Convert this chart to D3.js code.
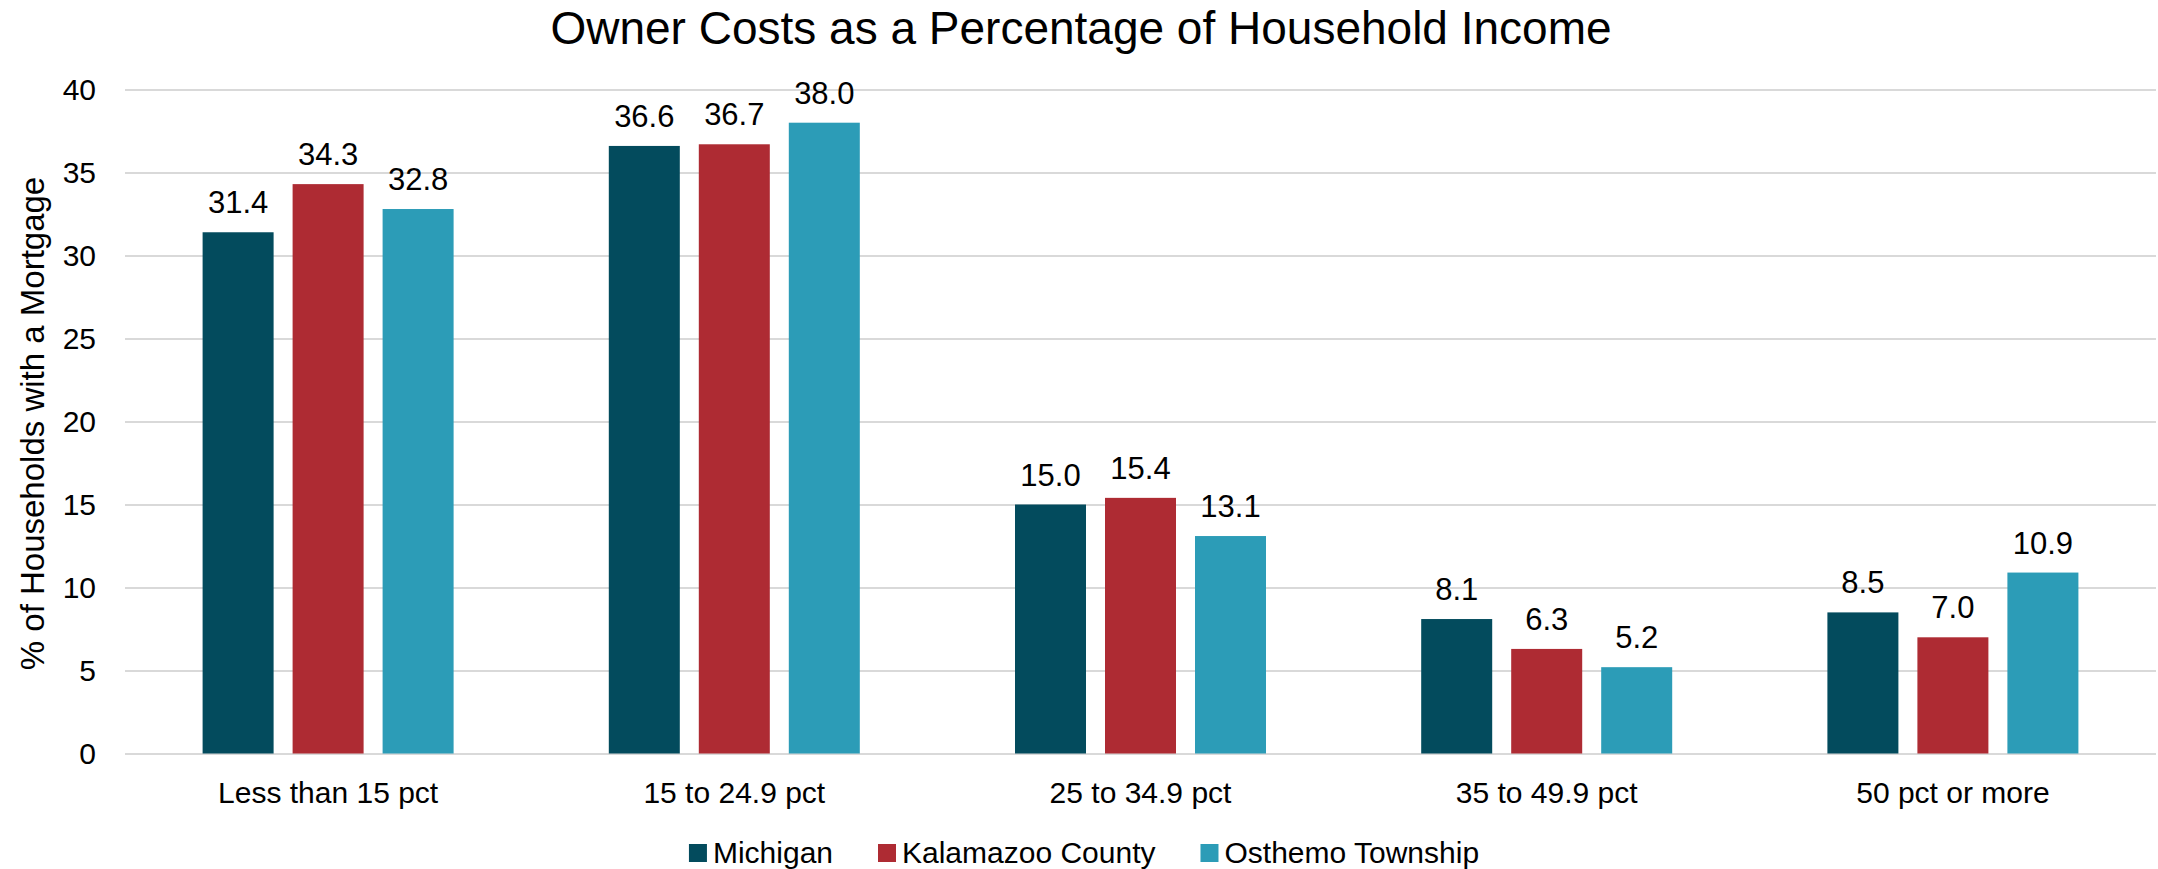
<!DOCTYPE html>
<html>
<head>
<meta charset="utf-8">
<script src="https://cdn.jsdelivr.net/npm/d3@7"></script>
<style>
  html, body { margin: 0; padding: 0; background: #fff; }
  svg { display: block; }
  text { font-family: "Liberation Sans", Arial, sans-serif; fill: #000; }
</style>
</head>
<body>
<svg id="chart" width="2158" height="869"></svg>
<script>
const categories = ["Less than 15 pct", "15 to 24.9 pct", "25 to 34.9 pct", "35 to 49.9 pct", "50 pct or more"];
const seriesNames = ["Michigan", "Kalamazoo County", "Osthemo Township"];
const michigan = [31.4, 36.6, 15.0, 8.1, 8.5];
const kalamazoo = [34.3, 36.7, 15.4, 6.3, 7.0];
const osthemo = [32.8, 38.0, 13.1, 5.2, 10.9];
const yTicks = [0, 5, 10, 15, 20, 25, 30, 35, 40];
const colors = ["#034B5D", "#AE2B33", "#2C9CB7"];
const titleText = "Owner Costs as a Percentage of Household Income";
const yTitle = "% of Households with a Mortgage";

(function () {
const seriesValues = [michigan, kalamazoo, osthemo];

const svg = d3.select("#chart");
const pLeft = 125, pRight = 2156, pTop = 89.5, pBottom = 753.5;

const x0 = d3.scaleBand().domain(categories).range([pLeft, pRight]).paddingInner(0).paddingOuter(0);
const groupW = 251;
const x1 = d3.scaleBand().domain(seriesNames).range([0, groupW]).paddingInner(19 / 90).paddingOuter(0);
const y = d3.scaleLinear().domain([0, 40]).range([pBottom, pTop]);

// gridlines + y tick labels
const yAxis = d3.axisLeft(y).tickValues(yTicks).tickSize(-(pRight - pLeft)).tickPadding(29).tickFormat(d3.format("d"));
const ga = svg.append("g").attr("transform", `translate(${pLeft},0)`).call(yAxis);
ga.select(".domain").remove();
ga.selectAll(".tick line").attr("stroke", "#d9d9d9").attr("stroke-width", 2);
ga.selectAll(".tick text").attr("font-size", 30).attr("font-family", "Liberation Sans, Arial, sans-serif").attr("fill", "#000");

// bars
const groups = svg.append("g").selectAll("g").data(categories).join("g")
  .attr("transform", d => `translate(${x0(d) + (x0.bandwidth() - groupW) / 2},0)`);

groups.each(function (cat, ci) {
  const g = d3.select(this);
  seriesNames.forEach((s, si) => {
    const v = seriesValues[si][ci];
    g.append("rect")
      .attr("x", x1(s)).attr("width", x1.bandwidth())
      .attr("y", y(v)).attr("height", y(0) - y(v))
      .attr("fill", colors[si]);
    g.append("text")
      .attr("x", x1(s) + x1.bandwidth() / 2).attr("y", y(v) - 19)
      .attr("text-anchor", "middle").attr("font-size", 31)
      .text(d3.format(".1f")(v));
  });
});

// x axis labels
const xAxis = d3.axisBottom(x0).tickSize(0).tickPadding(0);
const gx = svg.append("g").attr("transform", `translate(0,${pBottom})`).call(xAxis);
gx.select(".domain").remove();
gx.selectAll(".tick text").attr("font-size", 30).attr("font-family", "Liberation Sans, Arial, sans-serif")
  .attr("fill", "#000").attr("dy", null).attr("y", 49);

// title
svg.append("text").attr("x", 1081).attr("y", 44).attr("text-anchor", "middle")
  .attr("font-size", 46).text(titleText);

// y title
svg.append("text").attr("transform", `translate(44,${(pTop + pBottom) / 2 + 2}) rotate(-90)`)
  .attr("text-anchor", "middle").attr("font-size", 33).text(yTitle);

// legend
const lg = svg.append("g");
let cx = 0;
seriesNames.forEach((s, i) => {
  const it = lg.append("g").attr("transform", `translate(${cx},0)`);
  it.append("rect").attr("x", 0).attr("y", -19).attr("width", 18).attr("height", 18).attr("fill", colors[i]);
  const t = it.append("text").attr("x", 24).attr("y", 0).attr("font-size", 30).text(s);
  const w = t.node().getComputedTextLength();
  cx += 24 + w + 45;
});
const total = cx - 45;
lg.attr("transform", `translate(${1084 - total / 2},863)`);
})();
</script>
</body>
</html>
